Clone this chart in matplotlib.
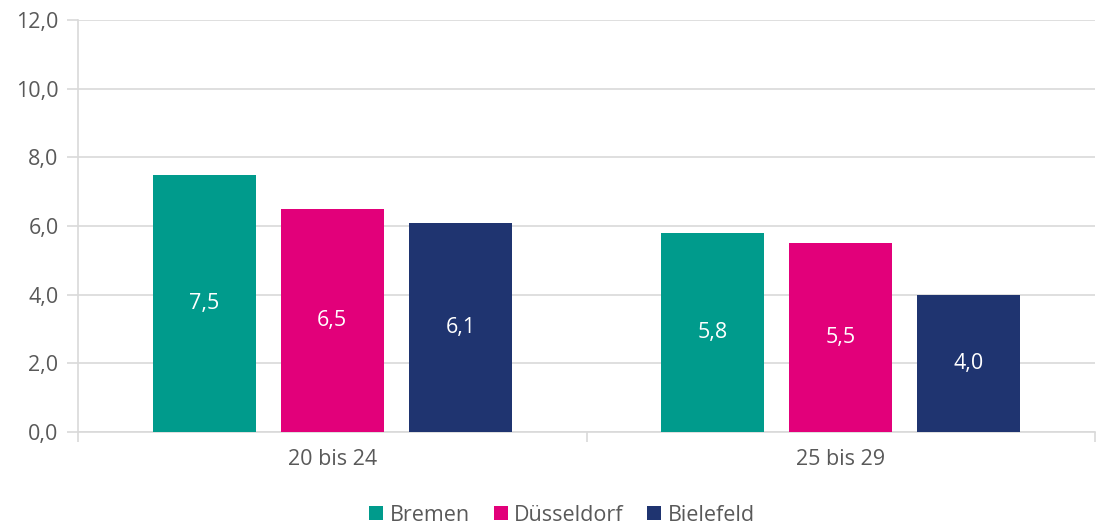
import numpy as np
import matplotlib.pyplot as plt

plt.rcParams['font.family'] = ['Open Sans', 'DejaVu Sans']

categories = ["20 bis 24", "25 bis 29"]
series = ["Bremen", "Düsseldorf", "Bielefeld"]
bremen = [7.5, 5.8]
duesseldorf = [6.5, 5.5]
bielefeld = [6.1, 4.0]
colors = ["#009B8C", "#E2007A", "#1F3470"]

values = [bremen, duesseldorf, bielefeld]

fig = plt.figure(figsize=(10.98, 5.27), dpi=100)
ax = fig.add_axes([78 / 1098, 1 - 432 / 527, (1095 - 78) / 1098, (432 - 20) / 527])

x = np.arange(len(categories))
width = 0.2025
step = 0.252
for i, (name, vals) in enumerate(zip(series, values)):
    pos = x + (i - 1) * step
    bars = ax.bar(pos, vals, width, color=colors[i], label=name, zorder=3)
    for b, v in zip(bars, vals):
        ax.text(b.get_x() + b.get_width() / 2, v / 2, f"{v:.1f}".replace(".", ","),
                ha="center", va="center", color="white", fontsize=15.5, zorder=4)

ax.set_xlim(-0.5, 1.5)
ax.set_ylim(0, 12)
ax.set_yticks(np.arange(0, 12.1, 2))
ax.set_yticklabels([f"{t:.1f}".replace(".", ",") for t in np.arange(0, 12.1, 2)])
ax.set_xticks(x)
ax.set_xticklabels(categories)
ax.set_xticks([-0.5, 0.5, 1.5], minor=True)
ax.tick_params(axis="x", which="major", length=0, pad=12, labelsize=15.5, labelcolor="#595959")
ax.tick_params(axis="x", which="minor", length=7, color="#D9D9D9", width=1.2)
ax.tick_params(axis="y", length=8, color="#D9D9D9", width=1.2, labelsize=15.5, labelcolor="#595959", pad=6)
ax.grid(axis="y", color="#D9D9D9", linewidth=1.2, zorder=0)
for s in ["top", "right"]:
    ax.spines[s].set_visible(False)
for s in ["left", "bottom"]:
    ax.spines[s].set_color("#D9D9D9")
    ax.spines[s].set_linewidth(1.2)

fig.legend(loc="lower center", bbox_to_anchor=(0.512, -0.034), ncol=3, frameon=False,
           fontsize=15.5, labelcolor="#595959", handlelength=0.65, handleheight=0.65,
           handletextpad=0.3, columnspacing=1.1)

fig.savefig("out.png", dpi=100)
